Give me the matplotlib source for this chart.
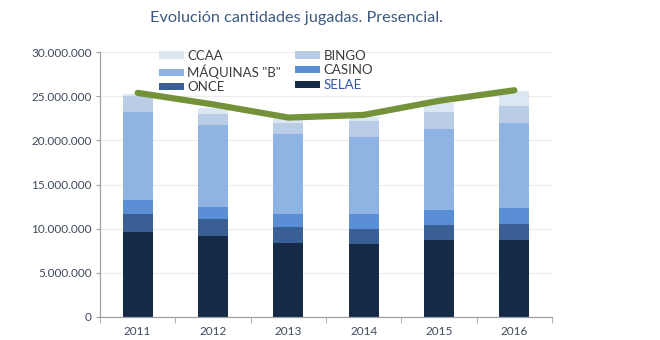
import numpy as np
import matplotlib.pyplot as plt
from matplotlib.ticker import FuncFormatter

plt.rcParams['font.family'] = ['Lato', 'DejaVu Sans']

years = ['2011', '2012', '2013', '2014', '2015', '2016']

# millions of euros, stacked from bottom to top
selae = [9.6, 9.15, 8.4, 8.3, 8.67, 8.67]
once = [2.0, 1.9, 1.8, 1.7, 1.73, 1.8]
casino = [1.6, 1.45, 1.5, 1.6, 1.7, 1.88]
maquinas = [10.0, 9.3, 9.0, 8.85, 9.25, 9.65]
bingo = [1.8, 1.2, 1.3, 1.75, 1.85, 1.9]
ccaa = [0.3, 0.7, 0.4, 0.5, 1.1, 1.7]

total_line = [25.4, 24.1, 22.6, 22.9, 24.5, 25.7]

series = [
    ('SELAE', selae, '#142a47'),
    ('ONCE', once, '#3a5f94'),
    ('CASINO', casino, '#5a8fd6'),
    ('MÁQUINAS "B"', maquinas, '#8fb4e3'),
    ('BINGO', bingo, '#b9cde6'),
    ('CCAA', ccaa, '#dde7f3'),
]

fig = plt.figure(figsize=(6.6, 3.4), dpi=100)
ax = fig.add_axes([0.1515, 0.0685, 0.6849, 0.7775])

x = np.arange(len(years))
bottom = np.zeros(len(years))
handles = {}
for name, vals, col in series:
    vals = np.array(vals) * 1e6
    b = ax.bar(x, vals, width=0.4, bottom=bottom, color=col, zorder=2, label=name)
    handles[name] = b
    bottom += vals

ax.plot(x, np.array(total_line) * 1e6, color='#74923a', lw=4.5,
        solid_capstyle='round', solid_joinstyle='round', zorder=3)

ax.set_xlim(-0.5, 5.5)
ax.set_ylim(0, 30e6)
ax.set_yticks(np.arange(0, 30.1e6, 5e6))
ax.yaxis.set_major_formatter(FuncFormatter(lambda v, p: f'{int(v):,}'.replace(',', '.')))
ax.set_xticks(x)
ax.set_xticklabels(years)
ax.set_xticks(np.arange(-0.5, 5.6, 1), minor=True)
ax.tick_params(axis='x', which='major', length=0, pad=7, labelsize=8.5, labelcolor='#3e4a5c')
ax.tick_params(axis='x', which='minor', length=4, color='#a0a0a0', direction='out')
ax.tick_params(axis='y', length=3, color='#a0a0a0', labelsize=8.5, labelcolor='#3e4a5c', pad=3)

ax.grid(axis='y', color='#ececec', lw=0.8, zorder=0)
for s in ['top', 'right']:
    ax.spines[s].set_visible(False)
for s in ['left', 'bottom']:
    ax.spines[s].set_color('#a0a0a0')
    ax.spines[s].set_linewidth(0.9)

order = ['CCAA', 'MÁQUINAS "B"', 'ONCE', 'BINGO', 'CASINO', 'SELAE']
leg = ax.legend([handles[n] for n in order], order, ncol=2, loc='upper left',
                bbox_to_anchor=(0.118, 1.03), frameon=False, fontsize=9.5,
                handlelength=1.9, handleheight=0.45, handletextpad=0.25,
                columnspacing=1.1, labelspacing=0.2, borderaxespad=0)
for t in leg.get_texts():
    t.set_color('#3b3b3b')
leg.get_texts()[5].set_color('#2f55a4')

fig.text(0.449, 0.948, 'Evolución cantidades jugadas. Presencial.', ha='center',
         va='center', fontsize=11.7, color='#3d5a80')

fig.savefig('out.png', dpi=100)
